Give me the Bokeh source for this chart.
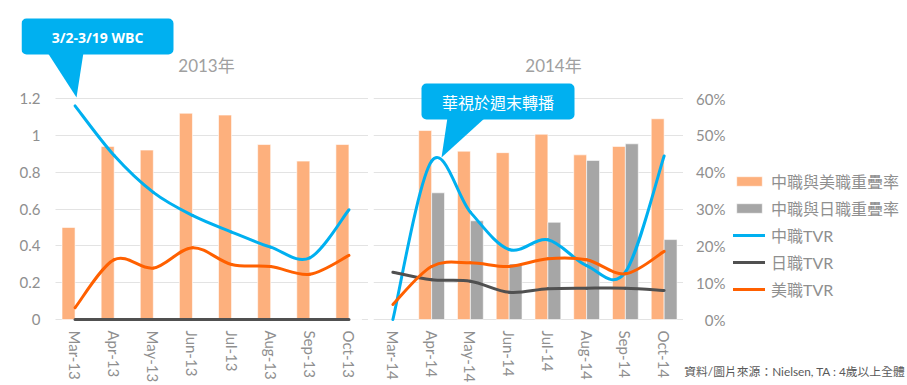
import math
from bokeh.plotting import figure
from bokeh.layouts import row
from bokeh.models import (Range1d, FixedTicker, NumeralTickFormatter, Grid,
                          Legend, LegendItem, Label, BoxAnnotation, PolyAnnotation,
                          ColumnDataSource)
from bokeh.transform import dodge
from bokeh.embed import file_html
from bokeh.resources import INLINE

NaN = float("nan")

# ---------------- data ----------------
months_2013 = ["Mar-13", "Apr-13", "May-13", "Jun-13", "Jul-13", "Aug-13", "Sep-13", "Oct-13"]
months_2014 = ["Mar-14", "Apr-14", "May-14", "Jun-14", "Jul-14", "Aug-14", "Sep-14", "Oct-14"]

# overlap rates (right axis, share)
cpbl_mlb_overlap_2013 = [0.25, 0.47, 0.46, 0.56, 0.555, 0.475, 0.43, 0.475]
cpbl_npb_overlap_2013 = [0, 0, 0, 0, 0, 0, 0, 0]
cpbl_mlb_overlap_2014 = [NaN, 0.513, 0.457, 0.453, 0.503, 0.447, 0.47, 0.545]
cpbl_npb_overlap_2014 = [NaN, 0.344, 0.268, 0.151, 0.264, 0.432, 0.477, 0.217]

# TVR (left axis)
cpbl_tvr_2013 = [1.16, 0.89, 0.69, 0.565, 0.475, 0.393, 0.335, 0.596]
npb_tvr_2013 = [0, 0, 0, 0, 0, 0, 0, 0]
mlb_tvr_2013 = [0.064, 0.325, 0.279, 0.39, 0.299, 0.288, 0.246, 0.348]
cpbl_tvr_2014 = [0.0, 0.86, 0.583, 0.38, 0.433, 0.293, 0.257, 0.888]
npb_tvr_2014 = [0.257, 0.216, 0.208, 0.148, 0.167, 0.17, 0.17, 0.158]
mlb_tvr_2014 = [0.0815, 0.288, 0.308, 0.288, 0.33, 0.324, 0.248, 0.37]

tvr_ticks = [0, 0.2, 0.4, 0.6, 0.8, 1.0, 1.2]
pct_ticks = [0, 0.1, 0.2, 0.3, 0.4, 0.5, 0.6]

labels_series = ["中職與美職重疊率", "中職與日職重疊率", "中職TVR", "日職TVR", "美職TVR"]
title_2013 = "2013年"
title_2014 = "2014年"
callout_2013 = "3/2-3/19 WBC"
callout_2014 = "華視於週末轉播"
source_note = "資料/圖片來源：Nielsen, TA : 4歲以上全體"

# ---------------- style ----------------
C_BAR_US = "#FDB07D"
C_BAR_JP = "#A6A6A6"
C_CPBL = "#00B0F0"
C_NPB = "#505050"
C_MLB = "#FF6000"
C_GRID = "#E3E3E3"
C_TEXT = "#8F8F8F"
FONT = "Lato, 'Noto Sans CJK TC', sans-serif"
CJK = "'Noto Sans CJK TC', sans-serif"

PX = 221 / 1.2          # pixels per TVR unit
ZERO_Y = 319            # page y of value 0
FRAME_H = 321
Y_RANGE = (-2 / PX, ZERO_Y / PX)
BAR_W = 1 / 3
N = 8
LINE_COLORS = (C_CPBL, C_NPB, C_MLB)


def smooth_cols(vals):
    n = len(vals)
    xs = list(range(n))
    d = dict(x0=[], y0=[], x1=[], y1=[], cx0=[], cy0=[], cx1=[], cy1=[])
    for i in range(n - 1):
        i0 = max(i - 1, 0)
        i3 = min(i + 2, n - 1)
        d["x0"].append(xs[i]); d["y0"].append(vals[i])
        d["x1"].append(xs[i + 1]); d["y1"].append(vals[i + 1])
        d["cx0"].append(xs[i] + (xs[i + 1] - xs[i0]) / 6)
        d["cy0"].append(vals[i] + (vals[i + 1] - vals[i0]) / 6)
        d["cx1"].append(xs[i + 1] - (xs[i3] - xs[i]) / 6)
        d["cy1"].append(vals[i + 1] - (vals[i3] - vals[i]) / 6)
    return ColumnDataSource(d)


def make_panel(months, us_ov, jp_ov, cpbl, npb, mlb, frame_left, frame_w, plot_left,
               left_border, left_axis):
    ppu = (frame_w - (plot_left - frame_left)) / N
    x_start = -0.5 - (plot_left - frame_left) / ppu
    p = figure(frame_width=frame_w, frame_height=FRAME_H, output_backend="svg",
               toolbar_location=None, x_range=Range1d(x_start, N - 0.5),
               y_range=Range1d(*Y_RANGE),
               y_axis_location="left" if left_axis else None)
    p.min_border_left = left_border
    p.min_border_right = 0
    p.min_border_top = 0
    p.min_border_bottom = 63
    p.outline_line_color = None
    p.background_fill_color = "white"
    p.border_fill_color = "white"
    p.extra_y_ranges = {"pct": Range1d(Y_RANGE[0] / 2, Y_RANGE[1] / 2)}
    p.xgrid.visible = False

    xa = p.xaxis[0]
    xa.ticker = FixedTicker(ticks=list(range(len(months))))
    xa.major_label_overrides = {i: m for i, m in enumerate(months)}
    xa.major_label_orientation = -math.pi / 2
    xa.axis_line_color = None
    xa.major_tick_line_color = None
    xa.minor_tick_line_color = None
    xa.major_tick_out = 0
    xa.major_label_text_font = FONT
    xa.major_label_text_font_size = "15px"
    xa.major_label_text_color = C_TEXT
    xa.major_label_standoff = 9

    if left_axis:
        ya = p.yaxis[0]
        ya.ticker = FixedTicker(ticks=tvr_ticks)
        ya.formatter = NumeralTickFormatter(format="0.[0]")
        ya.axis_line_color = None
        ya.major_tick_line_color = None
        ya.minor_tick_line_color = None
        ya.major_tick_out = 0
        ya.major_label_text_font = FONT
        ya.major_label_text_font_size = "15px"
        ya.major_label_text_color = C_TEXT
        ya.major_label_standoff = -(40 - frame_left)
        p.ygrid.grid_line_color = C_GRID
        p.ygrid.cross_bounds = (-0.5, N - 0.5)
    else:
        p.ygrid.visible = False
        p.add_layout(Grid(dimension=1, ticker=FixedTicker(ticks=tvr_ticks),
                          grid_line_color=C_GRID))

    src = ColumnDataSource(dict(idx=list(range(len(months))), us=us_ov, jp=jp_ov))
    p.vbar(x=dodge("idx", -BAR_W / 2), top="us", bottom=0, width=BAR_W, source=src,
           y_range_name="pct", fill_color=C_BAR_US, line_color="white", line_alpha=0.6,
           line_width=1)
    p.vbar(x=dodge("idx", BAR_W / 2), top="jp", bottom=0, width=BAR_W, source=src,
           y_range_name="pct", fill_color=C_BAR_JP, line_color="white", line_alpha=0.6,
           line_width=1)
    for vals, col in zip((cpbl, npb, mlb), LINE_COLORS):
        p.bezier(x0="x0", y0="y0", x1="x1", y1="y1", cx0="cx0", cy0="cy0",
                 cx1="cx1", cy1="cy1", source=smooth_cols(vals), line_color=col,
                 line_width=3, line_cap="round")

    def to_data(sx, sy):
        return (x_start + (sx - frame_left) / ppu, (ZERO_Y - sy) / PX)

    return p, to_data


p1, d1 = make_panel(months_2013, cpbl_mlb_overlap_2013, cpbl_npb_overlap_2013,
                    cpbl_tvr_2013, npb_tvr_2013, mlb_tvr_2013, 21, 347, 55, 21, True)
p2, d2 = make_panel(months_2014, cpbl_mlb_overlap_2014, cpbl_npb_overlap_2014,
                    cpbl_tvr_2014, npb_tvr_2014, mlb_tvr_2014, 373, 310, 373, 5, False)

# ---------------- right strip: percent axis, legend, source note ----------------
P3_LEFT = 683
P3_W = 223
P3_H = 384
PCT_PX = 221 / 0.6
p3 = figure(frame_width=P3_W, frame_height=P3_H, output_backend="svg", toolbar_location=None,
            x_range=Range1d(0, P3_W),
            y_range=Range1d(-(P3_H - ZERO_Y) / PCT_PX, ZERO_Y / PCT_PX),
            x_axis_location=None, y_axis_location="left")
p3.min_border_left = 0
p3.min_border_right = 0
p3.min_border_top = 0
p3.min_border_bottom = 0
p3.outline_line_color = None
p3.background_fill_color = "white"
p3.border_fill_color = "white"
p3.xgrid.visible = False
p3.ygrid.visible = False
ra = p3.yaxis[0]
ra.ticker = FixedTicker(ticks=pct_ticks)
ra.formatter = NumeralTickFormatter(format="0%")
ra.axis_line_color = None
ra.major_tick_line_color = None
ra.minor_tick_line_color = None
ra.major_tick_out = 0
ra.major_label_text_font = FONT
ra.major_label_text_font_size = "15px"
ra.major_label_text_color = C_TEXT
ra.major_label_standoff = -(725 - P3_LEFT)

# legend keys: hidden copies of the 2014 series, used only for the legend swatches
idx14 = list(range(len(months_2014)))
k_us = p3.vbar(x=idx14, top=cpbl_mlb_overlap_2014, width=BAR_W, fill_color=C_BAR_US,
               line_color="white", line_alpha=0.6, visible=False)
k_jp = p3.vbar(x=idx14, top=cpbl_npb_overlap_2014, width=BAR_W, fill_color=C_BAR_JP,
               line_color="white", line_alpha=0.6, visible=False)
k_lines = [p3.line(x=idx14, y=vals, line_color=c, line_width=3, line_cap="round",
                   visible=False)
           for vals, c in zip((cpbl_tvr_2014, npb_tvr_2014, mlb_tvr_2014), LINE_COLORS)]
legend = Legend(items=[LegendItem(label=l, renderers=[r])
                       for l, r in zip(labels_series, [k_us, k_jp] + k_lines)],
                location=(733 - P3_LEFT, P3_H - 301), orientation="vertical")
legend.click_policy = "none"
legend.border_line_color = None
legend.background_fill_alpha = 0
legend.label_text_font = FONT
legend.label_text_font_size = "16px"
legend.label_text_color = C_TEXT
legend.glyph_width = 32
legend.glyph_height = 12
legend.label_standoff = 6
legend.label_height = 20
legend.spacing = 3
legend.padding = 0
legend.margin = 0
legend.inactive_fill_alpha = 0
p3.add_layout(legend, "center")

p3.add_layout(Label(x=905 - P3_LEFT, y=(ZERO_Y - 371) / PCT_PX, text=source_note,
                    text_align="right", text_baseline="middle", text_color="#595959",
                    text_font=FONT, text_font_size="11.8px"))


def callout(p, to_data, box, tri, text_xy, text, font, size, bold):
    l, t = to_data(box[0], box[1])
    r, b = to_data(box[2], box[3])
    p.add_layout(BoxAnnotation(left=l, right=r, top=t, bottom=b, fill_color=C_CPBL,
                               fill_alpha=1, line_color=None, border_radius=5,
                               level="overlay"))
    pts = [to_data(x, y) for x, y in tri]
    p.add_layout(PolyAnnotation(xs=[q[0] for q in pts], ys=[q[1] for q in pts],
                                fill_color=C_CPBL, fill_alpha=1, line_color=None,
                                level="overlay"))
    tx, ty = to_data(*text_xy)
    p.add_layout(Label(x=tx, y=ty, text=text, text_align="center", text_baseline="middle",
                       text_color="white", text_font=font, text_font_size=size,
                       text_font_style="bold" if bold else "normal", level="overlay"))


callout(p1, d1, (21, 18, 173, 54), [(47, 52), (83, 52), (76, 97)], (97, 37),
        callout_2013, "'Open Sans', sans-serif", "14px", True)
callout(p2, d2, (421, 83, 574, 119), [(447, 117), (485, 117), (441, 157)], (497.5, 101),
        callout_2014, CJK, "16px", False)

tx, ty = d1(206, 65)
p1.add_layout(Label(x=tx, y=ty, text=title_2013, text_align="center", text_baseline="middle",
                    text_color="#A0A0A0", text_font=FONT, text_font_size="17px"))
tx, ty = d2(553, 65)
p2.add_layout(Label(x=tx, y=ty, text=title_2014, text_align="center", text_baseline="middle",
                    text_color="#A0A0A0", text_font=FONT, text_font_size="17px"))

layout = row(p1, p2, p3)
open("out.html", "w").write(file_html(layout, INLINE))
